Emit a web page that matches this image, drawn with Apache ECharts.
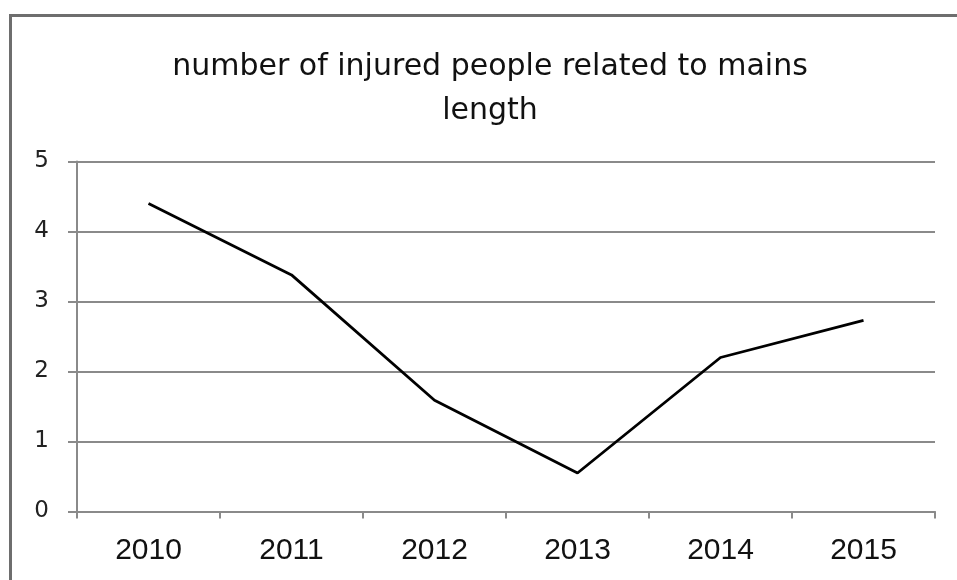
<!DOCTYPE html>
<html>
<head>
<meta charset="utf-8">
<script src="https://cdn.jsdelivr.net/npm/echarts@6/dist/echarts.min.js"></script>
<style>
  html, body { margin: 0; padding: 0; background: #fff; }
  #chart { width: 957px; height: 580px; }
</style>
</head>
<body>
<div id="chart"></div>
<script>
// Injured people per mains length, yearly
const years = ['2010', '2011', '2012', '2013', '2014', '2015'];
const injuredPerLength = [4.40, 3.38, 1.59, 0.55, 2.20, 2.73];
const yTicks = [0, 1, 2, 3, 4, 5];

const chart = echarts.init(document.getElementById('chart'), null, { renderer: 'canvas' });

chart.setOption({
  backgroundColor: '#ffffff',
  animation: false,
  title: {
    text: 'number of injured people related to mains\nlength',
    left: 485,
    textAlign: 'center',
    top: 40,
    textStyle: {
      fontFamily: 'DejaVu Sans, sans-serif',
      fontSize: 30,
      fontWeight: 'normal',
      color: '#111',
      lineHeight: 44
    }
  },
  graphic: [{
    type: 'rect',
    left: 8,
    top: 13,
    shape: { width: 1000, height: 620 },
    style: { fill: 'none', stroke: '#6e6e6e', lineWidth: 3 },
    silent: true
  }],
  grid: { left: 77, right: 22, top: 161.5, bottom: 68.5, containLabel: false },
  xAxis: {
    type: 'category',
    data: years,
    boundaryGap: true,
    axisLine: { show: true, lineStyle: { color: '#8a8a8a', width: 2 } },
    axisTick: { show: true, length: 7, alignWithLabel: false, lineStyle: { color: '#8a8a8a', width: 2 } },
    axisLabel: {
      fontFamily: 'Liberation Sans, Arial, sans-serif',
      fontSize: 30,
      color: '#111',
      margin: 24
    },
    splitLine: { show: false }
  },
  yAxis: {
    type: 'value',
    min: yTicks[0],
    max: yTicks[yTicks.length - 1],
    interval: 1,
    axisLine: { show: true, lineStyle: { color: '#8a8a8a', width: 2 } },
    axisTick: { show: true, length: 9, lineStyle: { color: '#8a8a8a', width: 2 } },
    axisLabel: {
      fontFamily: 'DejaVu Sans, sans-serif',
      fontSize: 23,
      color: '#222',
      margin: 28,
      padding: [4, 0, 0, 0]
    },
    splitLine: { show: true, lineStyle: { color: '#8a8a8a', width: 2 } }
  },
  series: [{
    type: 'line',
    data: injuredPerLength,
    showSymbol: false,
    symbol: 'none',
    smooth: false,
    lineStyle: { color: '#000', width: 2.8 },
    itemStyle: { color: '#000' }
  }]
});
</script>
</body>
</html>
